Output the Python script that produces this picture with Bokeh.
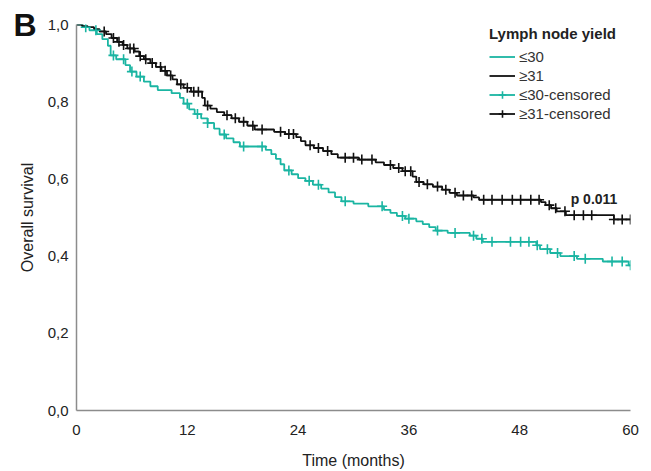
import numpy as np
from bokeh.plotting import figure
from bokeh.models import Legend, LegendItem, Label, FixedTicker, Range1d, LinearAxis
from bokeh.embed import file_html
from bokeh.resources import INLINE

# ---- data ----
x_ticks = [0, 12, 24, 36, 48, 60]
y_ticks = [0.0, 0.2, 0.4, 0.6, 0.8, 1.0]
y_tick_labels = ["0,0", "0,2", "0,4", "0,6", "0,8", "1,0"]

series_names = ["≤30", "≥31"]
censor_names = ["≤30-censored", "≥31-censored"]
legend_title = "Lymph node yield"
panel_letter = "B"
p_text = "p 0.011"
p_pos = (56.05, 0.548)

# >=31 group: event times (months) and survival after each event
black_t = [0.6, 1.2, 1.9, 2.5, 3.2, 3.8, 4.4, 5.0, 5.5, 6.3,
           6.8, 7.3, 8.0, 8.6, 9.2, 9.8, 10.4, 10.9, 11.6, 12.4,
           13.6, 13.9, 14.5, 15.2, 16.0, 16.8, 17.6, 18.5, 19.3, 21.4,
           22.6, 23.8, 24.3, 24.8, 25.7, 26.7, 27.6, 28.3, 30.6, 32.4,
           33.3, 34.3, 35.3, 36.4, 36.8, 37.6, 38.6, 39.6, 40.4, 41.2,
           43.0, 43.6, 50.3, 50.8, 51.4, 52.0, 53.0, 58.2]
black_s = [0.996, 0.993, 0.988, 0.982, 0.975, 0.965, 0.955, 0.947, 0.938, 0.93,
           0.918, 0.91, 0.9, 0.89, 0.88, 0.868, 0.858, 0.845, 0.836, 0.826,
           0.81, 0.79, 0.782, 0.773, 0.765, 0.757, 0.748, 0.738, 0.728, 0.722,
           0.716, 0.708, 0.698, 0.687, 0.68, 0.672, 0.664, 0.655, 0.65, 0.643,
           0.636, 0.628, 0.62, 0.606, 0.592, 0.586, 0.58, 0.572, 0.564, 0.557,
           0.552, 0.546, 0.54, 0.532, 0.524, 0.516, 0.506, 0.495]
black_cens = [3.0, 4.0, 4.6, 5.1, 5.8, 6.2, 6.9, 7.5, 8.2, 9.1, 9.6, 10.2, 11.3,
              12.0, 12.7, 13.2, 14.2, 16.3, 17.2, 18.1, 19.1, 20.1, 22.1, 23.0,
              23.5, 25.3, 26.2, 27.2, 29.1, 30.0, 30.9, 32.0, 34.0, 34.9, 35.6,
              36.2, 37.1, 38.0, 39.1, 40.0, 41.0, 41.9, 42.8, 44.1, 45.0, 46.1,
              47.2, 48.1, 49.2, 50.1, 51.2, 51.9, 52.9, 53.9, 54.9, 55.8, 58.2,
              59.1, 60.0]

# <=30 group
teal_t = [0.7, 1.4, 2.2, 2.8, 3.4, 3.7, 4.3, 5.3, 5.8, 6.5,
          7.3, 8.0, 8.8, 10.3, 11.2, 11.6, 12.2, 12.8, 13.5, 14.2,
          14.9, 15.5, 16.2, 17.0, 17.7, 20.5, 21.1, 21.6, 22.1, 22.5,
          23.3, 24.0, 24.8, 25.6, 26.5, 27.3, 28.0, 28.7, 30.0, 31.6,
          33.3, 34.0, 34.7, 35.6, 36.8, 37.5, 38.2, 38.9, 40.2, 42.6,
          43.3, 44.0, 49.8, 50.2, 51.3, 52.4, 54.2, 57.0, 59.8]
teal_s = [0.993, 0.985, 0.975, 0.962, 0.945, 0.92, 0.91, 0.895, 0.878, 0.865,
          0.852, 0.84, 0.83, 0.822, 0.81, 0.795, 0.78, 0.768, 0.757, 0.745,
          0.73, 0.715, 0.705, 0.695, 0.684, 0.675, 0.664, 0.652, 0.638, 0.622,
          0.612, 0.602, 0.595, 0.585, 0.575, 0.565, 0.553, 0.542, 0.536, 0.529,
          0.52, 0.512, 0.504, 0.497, 0.49, 0.483, 0.475, 0.466, 0.46, 0.453,
          0.445, 0.437, 0.428, 0.418, 0.408, 0.4, 0.393, 0.386, 0.376]
teal_cens = [1.0, 2.1, 4.0, 5.1, 6.0, 6.9, 12.0, 13.1, 14.2, 16.0, 18.1, 20.1,
             23.0, 25.2, 26.2, 29.1, 33.1, 35.3, 36.0, 39.1, 41.0, 43.0, 43.9,
             45.0, 47.0, 48.1, 49.0, 49.9, 51.0, 52.1, 53.9, 55.1, 58.0, 59.1,
             60.0]

TEAL = "#1ab5a2"
BLACK = "#111111"
FONT = "Liberation Sans"


def km_curve(t, s, end=60.0):
    tt = np.array([0.0] + list(t) + [end])
    ss = np.array([1.0] + list(s) + [s[-1]])
    return tt, ss


def censor_y(tt, ss, c):
    c = np.asarray(c)
    idx = np.searchsorted(tt, c, side="right") - 1
    idx = np.clip(idx, 0, len(ss) - 1)
    return ss[idx]


p = figure(width=651, height=471, x_range=Range1d(0, 60), y_range=Range1d(0, 1),
           output_backend="svg", toolbar_location=None,
           min_border_left=76, min_border_right=21, min_border_top=24,
           min_border_bottom=58)
p.grid.visible = False
p.outline_line_color = None

tt_t, ss_t = km_curve(teal_t, teal_s)
tt_b, ss_b = km_curve(black_t, black_s)

r_teal = p.step(tt_t, ss_t, mode="after", line_color=TEAL, line_width=1.8)
r_black = p.step(tt_b, ss_b, mode="after", line_color=BLACK, line_width=1.8)
c_teal = p.scatter(teal_cens, censor_y(tt_t, ss_t, teal_cens), marker="cross",
                   size=10, line_color=TEAL, line_width=1.6)
c_black = p.scatter(black_cens, censor_y(tt_b, ss_b, black_cens), marker="cross",
                    size=10, line_color=BLACK, line_width=1.6)

# axes
for ax in (p.xaxis[0], p.yaxis[0]):
    ax.axis_line_color = "#8c8c8c"
    ax.axis_line_width = 1.5
    ax.major_tick_line_color = None
    ax.minor_tick_line_color = None
    ax.major_label_text_font = FONT
    ax.major_label_text_font_size = "15px"
    ax.major_label_text_color = "#222222"
    ax.axis_label_text_font = FONT
    ax.axis_label_text_font_size = "16px"
    ax.axis_label_text_font_style = "normal"
    ax.axis_label_text_color = "#222222"

p.xaxis.ticker = FixedTicker(ticks=x_ticks)
p.yaxis.ticker = FixedTicker(ticks=y_ticks)
p.yaxis.major_label_overrides = {v: lab for v, lab in zip(y_ticks, y_tick_labels)}
p.xaxis.axis_label = "Time (months)"
p.yaxis.axis_label = "Overall survival"
p.xaxis.major_label_standoff = 8
p.xaxis.axis_label_standoff = 14
p.yaxis.major_label_standoff = 2
p.yaxis.axis_label_standoff = 9

# panel letter, drawn as the single label of an outer left axis (outside the frame)
b_axis = LinearAxis(ticker=FixedTicker(ticks=[1.0]),
                    major_label_overrides={1.0: panel_letter},
                    axis_line_color=None, major_tick_line_color=None,
                    minor_tick_line_color=None,
                    major_label_text_font=FONT, major_label_text_font_style="bold",
                    major_label_text_font_size="32px",
                    major_label_text_color="#111111",
                    major_label_standoff=-27)
p.add_layout(b_axis, "left")

# legend
legend = Legend(items=[
    LegendItem(label=series_names[0], renderers=[r_teal]),
    LegendItem(label=series_names[1], renderers=[r_black]),
    LegendItem(label=censor_names[0], renderers=[r_teal, c_teal]),
    LegendItem(label=censor_names[1], renderers=[r_black, c_black]),
], location=(413, 287), title=legend_title,
    title_text_font=FONT, title_text_font_style="bold", title_text_font_size="15px",
    title_text_color="#222222",
    label_text_font=FONT, label_text_font_size="15px", label_text_color="#333333",
    glyph_width=26, glyph_height=19, label_height=19, spacing=0, padding=0,
    margin=0, border_line_color=None, background_fill_alpha=0,
    title_standoff=5, label_standoff=4)
p.add_layout(legend)

p.add_layout(Label(x=p_pos[0], y=p_pos[1], text=p_text, text_font=FONT,
                   text_font_style="bold", text_font_size="14px",
                   text_color="#222222", text_align="center",
                   text_baseline="alphabetic"))

open("out.html", "w").write(file_html(p, INLINE))
